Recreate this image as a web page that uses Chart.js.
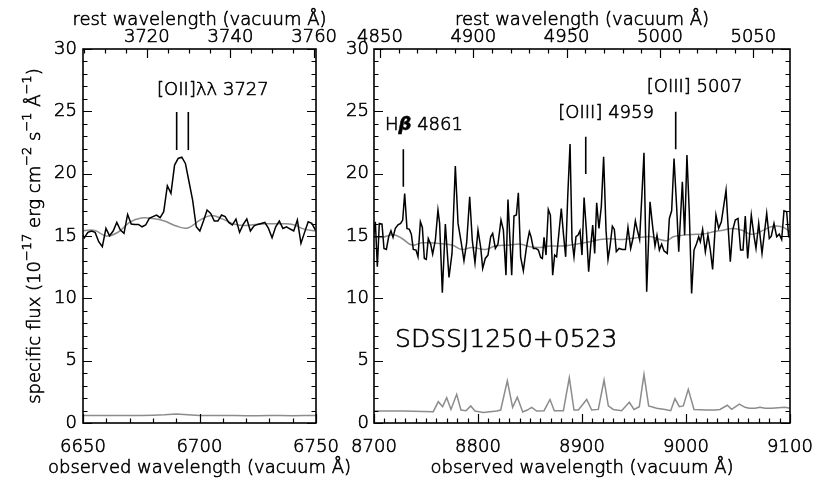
<!DOCTYPE html>
<html>
<head>
<meta charset="utf-8">
<script src="https://cdn.jsdelivr.net/npm/chart.js@4.4.0/dist/chart.umd.min.js"></script>
<style>
  html, body { margin: 0; padding: 0; background: #fff; }
  #wrap { position: relative; width: 830px; height: 499px; overflow: hidden; }
  .panel { position: absolute; top: 0; height: 499px; }
  #left { left: 0; width: 360px; }
  #right { left: 330px; width: 500px; }
</style>
</head>
<body>
<div id="wrap">
  <div class="panel" id="left"><canvas id="leftChart"></canvas></div>
  <div class="panel" id="right"><canvas id="rightChart"></canvas></div>
</div>
<script>
// redshift used for the rest-frame (top) axis
const redshift = 0.795;

// ---- left panel: [OII] region ----
const leftStart = 6649;
const leftStep = 1.55;
const leftFlux = [
  15.34, 14.86, 15.29, 15.40, 15.29, 14.54, 14.14, 15.61, 15.02, 15.40,
  16.09, 15.48, 15.21, 16.73, 15.96, 15.93, 15.93, 15.74, 15.88, 16.41,
  16.55, 16.68, 16.47, 16.95, 19.03, 18.42, 20.69, 21.22, 21.33, 20.82,
  19.35, 17.88, 15.74, 15.40, 16.20, 17.08, 16.81, 16.20, 16.20, 16.68,
  16.55, 16.09, 15.88, 16.36, 15.29, 15.93, 16.36, 15.40, 15.82, 15.93,
  16.01, 16.09, 15.61, 14.86, 15.74, 16.20, 15.61, 15.74, 15.56, 15.40,
  16.28, 14.41, 15.29, 16.14, 16.01, 15.48
];
const leftModelWave = [6650, 6655, 6660, 6665, 6670, 6675, 6680, 6685, 6690, 6695, 6700,
  6705, 6710, 6715, 6720, 6725, 6730, 6735, 6740, 6745, 6750];
const leftModel = [15.42, 15.45, 15.0, 15.3, 16.1, 16.45, 16.4, 16.2, 15.8, 15.65, 16.25,
  16.65, 16.35, 15.95, 15.85, 15.95, 15.98, 15.98, 15.93, 15.55, 15.4];
const leftNoise = [0.6, 0.6, 0.6, 0.6, 0.6, 0.61, 0.63, 0.66, 0.72, 0.66, 0.61,
  0.61, 0.6, 0.6, 0.59, 0.59, 0.6, 0.6, 0.59, 0.6, 0.61];
const oiiMarkWave = [6690.2, 6695.2];
const oiiMarkLow = [21.9, 21.9];
const oiiMarkHigh = [24.95, 24.95];

// ---- right panel: Hbeta / [OIII] region ----
const rightWave = [
  8699.4, 8701.3, 8703.2, 8705.1, 8707.7, 8709.6, 8711.9, 8714.1, 8716.3, 8718.3,
  8720.5, 8723.1, 8725.6, 8727.6, 8729.5, 8731.7, 8734.0, 8735.9, 8737.8, 8740.4,
  8742.3, 8744.6, 8746.5, 8748.4, 8750.3, 8752.2, 8754.5, 8756.4, 8759.0, 8761.5,
  8763.1, 8765.7, 8768.6, 8772.1, 8775.0, 8778.2, 8780.8, 8784.0, 8786.5, 8789.1,
  8792.0, 8794.5, 8797.1, 8800.0, 8802.6, 8804.5, 8807.0, 8809.6, 8812.2, 8814.1,
  8816.7, 8819.2, 8822.1, 8824.4, 8826.9, 8828.8, 8832.4, 8834.6, 8836.9, 8838.8,
  8841.0, 8843.6, 8846.2, 8847.8, 8849.4, 8851.0, 8853.2, 8855.8, 8858.0, 8860.3,
  8861.9, 8863.5, 8865.4, 8867.6, 8869.6, 8871.8, 8873.7, 8875.6, 8877.9, 8880.1,
  8882.1, 8884.3, 8886.2, 8888.5, 8890.4, 8892.3, 8894.2, 8896.2, 8898.1, 8900.0,
  8902.0, 8904.2, 8906.4, 8908.3, 8910.3, 8912.2, 8914.1, 8916.3, 8918.6, 8920.8,
  8923.1, 8925.0, 8926.9, 8929.2, 8931.1, 8933.0, 8935.6, 8938.8, 8941.7, 8944.2,
  8946.8, 8949.0, 8951.3, 8953.2, 8955.4, 8958.0, 8959.6, 8962.2, 8965.4, 8968.0,
  8970.2, 8972.1, 8974.4, 8976.6, 8978.8, 8982.0, 8984.0, 8986.2, 8988.5, 8991.0,
  8993.0, 8996.5, 8998.7, 9000.9, 9003.2, 9005.4, 9007.7, 9010.2, 9012.2, 9013.8,
  9016.0, 9018.6, 9021.1, 9023.4, 9025.6, 9028.8, 9031.4, 9034.0, 9038.5, 9040.4,
  9042.6, 9044.9, 9047.4, 9050.0, 9052.5, 9054.8, 9057.0, 9059.3, 9062.8, 9065.4,
  9067.3, 9069.9, 9073.1, 9077.6, 9080.1, 9082.0, 9084.6, 9087.2, 9089.7, 9092.0,
  9094.2, 9096.8, 9098.7, 9100.6
];
const rightFlux = [
  14.94, 16.14, 12.53, 16.01, 15.95, 14.00, 13.92, 14.94, 15.42, 14.89,
  15.61, 15.90, 16.01, 16.28, 18.41, 15.61, 15.53, 15.15, 13.92, 13.87,
  13.33, 16.14, 15.69, 13.20, 13.12, 14.80, 14.35, 13.55, 14.67, 17.08,
  16.01, 10.45, 15.95, 11.68, 13.60, 20.61, 16.01, 14.40, 13.01, 14.46,
  18.15, 14.67, 12.85, 15.47, 14.08, 12.40, 13.20, 13.47, 14.94, 15.21,
  14.00, 14.35, 16.28, 15.47, 11.86, 17.93, 11.86, 16.60, 16.68, 18.47,
  13.33, 12.21, 13.87, 14.67, 15.34, 14.94, 14.00, 14.00, 13.87, 13.28,
  13.20, 14.89, 13.47, 17.13, 16.68, 11.86, 13.47, 13.33, 15.34, 17.21,
  15.21, 13.33, 18.01, 22.37, 14.67, 13.33, 14.94, 15.07, 15.42, 13.47,
  18.09, 15.47, 12.13, 14.14, 15.87, 13.60, 17.66, 15.61, 17.40, 21.35,
  15.47, 13.12, 14.14, 15.79, 15.53, 13.74, 14.00, 13.92, 13.92, 15.69,
  14.00, 14.80, 16.22, 15.47, 14.72, 18.95, 21.67, 10.53, 17.74, 15.69,
  14.19, 15.07, 13.87, 14.35, 13.82, 13.60, 16.41, 17.02, 21.22, 17.34,
  13.74, 19.35, 15.07, 21.49, 16.81, 10.39, 13.87, 14.40, 14.94, 14.54,
  15.53, 13.74, 15.07, 13.87, 12.32, 16.68, 15.61, 16.14, 18.68, 15.87,
  12.93, 15.47, 16.28, 16.41, 13.87, 13.87, 16.60, 13.20, 16.68, 14.99,
  14.00, 16.01, 13.60, 16.81, 14.80, 14.99, 16.01, 14.94, 15.15, 14.72,
  17.02, 16.94, 14.94, 14.94
];
const rightModelWave = [
  8700, 8707.7, 8718.9, 8726.9, 8736.5, 8746.2, 8762.2, 8775.0, 8784.6, 8794.2,
  8807.0, 8816.7, 8830.8, 8840.4, 8850.0, 8859.6, 8869.2, 8878.8, 8888.5, 8898.1,
  8907.7, 8917.3, 8926.9, 8936.5, 8946.2, 8955.8, 8965.4, 8971.8, 8981.4, 8987.8,
  8997.4, 9007.0, 9016.7, 9026.3, 9035.9, 9045.5, 9055.1, 9061.5, 9067.9, 9074.4,
  9084.0, 9093.6, 9100.0
];
const rightModel = [
  14.89, 14.89, 15.10, 14.80, 14.27, 14.46, 14.40, 14.27, 13.92, 14.08,
  13.92, 14.19, 14.27, 14.35, 14.14, 14.08, 14.19, 14.19, 14.27, 14.40,
  14.54, 14.72, 14.78, 14.72, 14.80, 14.89, 14.96, 14.80, 14.62, 14.94,
  15.07, 15.13, 15.15, 15.34, 15.47, 15.61, 15.42, 15.15, 15.21, 15.47,
  15.79, 15.69, 15.34
];
const rightNoiseWave = [
  8700.3, 8728.2, 8757.0, 8761.8, 8766.0, 8769.9, 8774.0, 8779.5, 8783.6, 8788.5,
  8793.0, 8797.1, 8805.1, 8818.0, 8821.8, 8828.2, 8833.3, 8837.8, 8843.0, 8847.4,
  8851.6, 8856.4, 8863.5, 8869.2, 8873.4, 8882.1, 8887.8, 8892.3, 8896.5, 8904.5,
  8909.3, 8915.7, 8921.2, 8925.3, 8930.1, 8938.1, 8945.5, 8950.0, 8955.1, 8959.6,
  8964.1, 8971.8, 8979.8, 8985.3, 8989.4, 8993.6, 8997.4, 9002.2, 9007.7, 9019.9,
  9027.9, 9032.7, 9039.7, 9043.9, 9051.3, 9056.7, 9060.9, 9066.4, 9071.2, 9076.0,
  9082.4, 9095.2, 9100.0
];
const rightNoise = [
  0.96, 0.96, 0.91, 1.71, 1.31, 2.03, 1.09, 2.30, 1.04, 0.99,
  1.37, 0.96, 0.85, 0.96, 1.04, 3.39, 1.26, 2.06, 0.88, 1.04,
  1.26, 0.96, 0.99, 1.89, 0.99, 0.99, 3.63, 1.04, 1.04, 1.89,
  1.04, 1.09, 3.45, 1.37, 1.09, 0.99, 1.66, 1.09, 1.31, 3.90,
  1.37, 1.18, 1.09, 0.99, 1.95, 1.31, 1.37, 2.70, 1.09, 1.04,
  1.04, 1.09, 1.42, 1.09, 1.52, 1.26, 1.18, 1.18, 1.26, 1.18,
  1.18, 1.26, 1.18
];
const rightMarkWave = [8728.2, 8903.6, 8990.1];
const rightMarkLow = [18.95, 19.97, 21.95];
const rightMarkHigh = [21.95, 22.96, 24.96];

const FAMILY = "'DejaVu Sans', sans-serif";
const GRAY = '#8c8c8c';
const font = (size, style) => (style || '') + ' 200 ' + size + 'px ' + FAMILY;
const F18 = font(18);
const SUP = font(13);
Chart.defaults.font.family = FAMILY;
Chart.defaults.color = '#000';

const toPoints = (xs, ys) => xs.map((x, i) => ({ x: x, y: ys[i] }));
const markSegments = (xs, lo, hi) => {
  const pts = [];
  xs.forEach((x, i) => {
    pts.push({ x: x, y: lo[i] }, { x: x, y: hi[i] }, { x: x, y: null });
  });
  return pts;
};
const tickList = (lo, hi, step) => {
  const out = [];
  for (let v = lo; v <= hi + 1e-6; v += step) out.push({ value: Math.round(v * 100) / 100 });
  return out;
};

// text in pieces (mixed fonts / superscripts); thin font given a hairline stroke
const drawParts = (ctx, parts, x, y, align) => {
  let w = 0;
  parts.forEach(([t, f]) => { ctx.font = f; w += ctx.measureText(t).width; });
  let cx = align === 'center' ? x - w / 2 : align === 'right' ? x - w : x;
  parts.forEach(([t, f, rise]) => {
    ctx.font = f;
    const yy = y - (rise || 0);
    ctx.fillText(t, cx, yy);
    ctx.strokeText(t, cx, yy);
    cx += ctx.measureText(t).width;
  });
};

// frame with inward IDL-style tick marks, tick labels and axis titles
const axesDecor = {
  id: 'axesDecor',
  afterDatasetsDraw(chart, args, opts) {
    const { ctx, chartArea: a, scales } = chart;
    ctx.save();
    ctx.strokeStyle = '#000';
    ctx.fillStyle = '#000';
    ctx.lineWidth = 1.2;
    Object.keys(scales).forEach((key) => {
      const s = scales[key];
      const every = opts.major[key];
      s.ticks.forEach((t) => {
        const major = Math.abs(t.value / every - Math.round(t.value / every)) < 1e-6;
        const len = major ? 9 : 4.5;
        const p = Math.round(s.getPixelForValue(t.value)) + 0.5;
        ctx.beginPath();
        if (s.axis === 'x') {
          if (s.position === 'top') { ctx.moveTo(p, a.top); ctx.lineTo(p, a.top + len); }
          else { ctx.moveTo(p, a.bottom); ctx.lineTo(p, a.bottom - len); }
        } else {
          ctx.moveTo(a.left, p); ctx.lineTo(a.left + len, p);
          ctx.moveTo(a.right, p); ctx.lineTo(a.right - len, p);
        }
        ctx.stroke();
      });
    });
    ctx.lineWidth = 1.6;
    ctx.strokeRect(a.left, a.top, a.right - a.left, a.bottom - a.top);

    // tick labels
    ctx.lineWidth = 0.6;
    ctx.textBaseline = 'middle';
    Object.keys(scales).forEach((key) => {
      const s = scales[key];
      const every = opts.major[key];
      s.ticks.forEach((t) => {
        if (Math.abs(t.value / every - Math.round(t.value / every)) > 1e-6) return;
        const label = String(Math.round(t.value));
        const p = s.getPixelForValue(t.value);
        if (key === 'x') drawParts(ctx, [[label, F18]], p, a.bottom + 24, 'center');
        else if (key === 'xTop') drawParts(ctx, [[label, F18]], p, a.top - 12, 'center');
        else drawParts(ctx, [[label, F18]], a.left - opts.yPad, p, 'right');
      });
    });

    // axis titles
    const cx = (a.left + a.right) / 2;
    drawParts(ctx, [[opts.topTitle, F18]], cx, a.top - 29, 'center');
    drawParts(ctx, [[opts.bottomTitle, F18]], cx, a.bottom + 45, 'center');
    if (opts.yTitle) {
      ctx.translate(35, (a.top + a.bottom) / 2);
      ctx.rotate(-Math.PI / 2);
      drawParts(ctx, opts.yTitle, 0, 0, 'center');
    }
    ctx.restore();
  }
};

// line identifications and object name
const lineLabels = {
  id: 'lineLabels',
  afterDatasetsDraw(chart, args, opts) {
    const { ctx, scales } = chart;
    ctx.save();
    ctx.fillStyle = '#000';
    ctx.strokeStyle = '#000';
    ctx.lineWidth = 0.6;
    ctx.textBaseline = 'middle';
    (opts.items || []).forEach((item) => {
      drawParts(ctx, item.parts, scales.x.getPixelForValue(item.x), scales.y.getPixelForValue(item.y), 'left');
    });
    ctx.restore();
  }
};

const makeChart = (id, cfg) => {
  const hidden = { display: false };
  const xBottom = {
    type: 'linear',
    position: 'bottom',
    min: cfg.xmin,
    max: cfg.xmax,
    afterBuildTicks: (s) => { s.ticks = tickList(cfg.xmin, cfg.xmax, 10); },
    afterFit: (s) => { s.height = 76; s.paddingLeft = 0; s.paddingRight = 0; },
    grid: { display: false, drawTicks: false },
    border: hidden,
    ticks: { display: false, autoSkip: false },
    title: hidden
  };
  const restMin = cfg.xmin / (1 + redshift);
  const restMax = cfg.xmax / (1 + redshift);
  const xTop = {
    type: 'linear',
    position: 'top',
    min: restMin,
    max: restMax,
    afterBuildTicks: (s) => { s.ticks = tickList(cfg.restFirst, restMax, cfg.restMinor); },
    afterFit: (s) => { s.height = 49; s.paddingLeft = 0; s.paddingRight = 0; },
    grid: { display: false, drawTicks: false },
    border: hidden,
    ticks: { display: false, autoSkip: false },
    title: hidden
  };
  const y = {
    type: 'linear',
    min: 0,
    max: 30,
    afterBuildTicks: (s) => { s.ticks = tickList(0, 30, 1); },
    afterFit: (s) => { s.width = cfg.yWidth; s.paddingTop = 0; s.paddingBottom = 0; },
    grid: { display: false, drawTicks: false },
    border: hidden,
    ticks: { display: false, autoSkip: false },
    title: hidden
  };
  return new Chart(document.getElementById(id), {
    type: 'line',
    data: { datasets: cfg.datasets },
    options: {
      responsive: true,
      maintainAspectRatio: false,
      animation: false,
      devicePixelRatio: 1,
      layout: { padding: { left: 0, right: cfg.padRight, top: 0, bottom: 0 } },
      plugins: {
        legend: { display: false },
        tooltip: { enabled: false },
        lineLabels: { items: cfg.labels },
        axesDecor: {
          major: { x: cfg.xMajor, xTop: cfg.restMajor, y: 5 },
          yPad: cfg.yPad,
          yTitle: cfg.yTitle,
          topTitle: 'rest wavelength (vacuum Å)',
          bottomTitle: 'observed wavelength (vacuum Å)'
        }
      },
      elements: { point: { radius: 0 } },
      scales: { x: xBottom, xTop: xTop, y: y }
    },
    plugins: [axesDecor, lineLabels]
  });
};

const spec = (data) => ({ data, borderColor: '#000', borderWidth: 1.5, tension: 0, clip: 0 });
const model = (data) => ({ data, borderColor: GRAY, borderWidth: 1.5, tension: 0.4, clip: 0 });
const noise = (data) => ({ data, borderColor: GRAY, borderWidth: 1.5, tension: 0, clip: 0 });
const marks = (data) => ({ data, borderColor: '#000', borderWidth: 1.6, spanGaps: false, clip: 0 });

const leftWave = leftFlux.map((_, i) => leftStart + leftStep * i);

makeChart('leftChart', {
  xmin: 6650, xmax: 6750, xMajor: 50,
  restFirst: 3705, restMinor: 5, restMajor: 20,
  yWidth: 83, yPad: 6, padRight: 44,
  yTitle: [
    ['specific flux (10', F18], ['−17', SUP, 7], [' erg cm', F18], ['−2', SUP, 7],
    [' s', F18], ['−1', SUP, 7], [' Å', F18], ['−1', SUP, 7], [')', F18]
  ],
  datasets: [
    spec(toPoints(leftWave, leftFlux)),
    marks(markSegments(oiiMarkWave, oiiMarkLow, oiiMarkHigh)),
    model(toPoints(leftModelWave, leftModel)),
    noise(toPoints(leftModelWave, leftNoise))
  ],
  labels: [
    { x: 6681.8, y: 26.7, parts: [['[OII]λλ 3727', F18]] }
  ]
});

makeChart('rightChart', {
  xmin: 8700, xmax: 9100, xMajor: 100,
  restFirst: 4850, restMinor: 10, restMajor: 50,
  yWidth: 44, yPad: 5, padRight: 40,
  yTitle: null,
  datasets: [
    spec(toPoints(rightWave, rightFlux)),
    marks(markSegments(rightMarkWave, rightMarkLow, rightMarkHigh)),
    model(toPoints(rightModelWave, rightModel)),
    noise(toPoints(rightNoiseWave, rightNoise))
  ],
  labels: [
    { x: 8710.6, y: 23.9, parts: [['H', F18], ['β', "italic bold 18px " + FAMILY], [' 4861', F18]] },
    { x: 8877.2, y: 24.8, parts: [['[OIII] 4959', F18]] },
    { x: 8962.2, y: 26.9, parts: [['[OIII] 5007', F18]] },
    { x: 8720.2, y: 6.6, parts: [['SDSSJ1250+0523', font(25)]] }
  ]
});
</script>
</body>
</html>
